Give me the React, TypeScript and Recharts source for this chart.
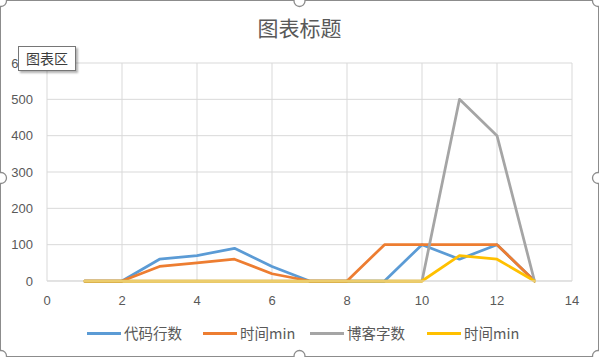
import React from "react";
import { LineChart, Line, XAxis, YAxis, CartesianGrid } from "recharts";

const xValues = [1, 2, 3, 4, 5, 6, 7, 8, 9, 10, 11, 12, 13];
const codeLines = [0, 0, 60, 70, 90, 40, 0, 0, 0, 100, 60, 100, 0];
const timeMin1 = [0, 0, 40, 50, 60, 20, 0, 0, 100, 100, 100, 100, 0];
const blogWords = [0, 0, 0, 0, 0, 0, 0, 0, 0, 0, 500, 400, 0];
const timeMin2 = [0, 0, 0, 0, 0, 0, 0, 0, 0, 0, 70, 60, 0];

const xTicks = [0, 2, 4, 6, 8, 10, 12, 14];
const yTicks = [0, 100, 200, 300, 400, 500, 600];

const seriesNames = ["代码行数", "时间min", "博客字数", "时间min"];
const seriesColors = ["#5B9BD5", "#ED7D31", "#A5A5A5", "#FFC000"];
const seriesKeys = ["s0", "s1", "s2", "s3"];
const seriesValues = [codeLines, timeMin1, blogWords, timeMin2];

const data = xValues.map((x, i) => {
  const row: Record<string, number> = { x };
  seriesKeys.forEach((k, j) => {
    row[k] = seriesValues[j][i];
  });
  return row;
});

const TEXT = "#595959";
const FONT_NUM = "'Liberation Sans', 'Noto Sans CJK SC', sans-serif";
const FONT_CJK = "'Noto Sans CJK SC', 'Liberation Sans', sans-serif";

export default function App() {
  const W = 599;
  const H = 357;
  const handles = [
    [1, 1], [W / 2, 1], [W - 1, 1],
    [1, 178], [W - 1, 178],
    [1, H - 1], [W / 2, H - 1], [W - 1, H - 1],
  ];
  return (
    <div style={{ position: "absolute", left: 0, top: 0, width: W, height: H, background: "#fff", overflow: "hidden" }}>
      <div
        style={{
          position: "absolute",
          left: 0,
          top: 12,
          width: W,
          textAlign: "center",
          fontFamily: FONT_CJK,
          fontSize: 21,
          color: TEXT,
          lineHeight: "30px",
        }}
      >
        图表标题
      </div>
      <LineChart width={W} height={H} data={data} margin={{ top: 63, right: 27, left: 0, bottom: 46 }}>
        <CartesianGrid stroke="#D9D9D9" strokeWidth={1} />
        <XAxis
          dataKey="x"
          type="number"
          domain={[0, 14]}
          ticks={xTicks}
          height={30}
          tickLine={false}
          tickSize={0}
          tickMargin={15}
          axisLine={{ stroke: "#D9D9D9" }}
          tick={{ fill: TEXT, fontSize: 13, fontFamily: FONT_NUM }}
          interval={0}
        />
        <YAxis
          type="number"
          domain={[0, 600]}
          ticks={yTicks}
          width={47}
          tickLine={false}
          tickSize={0}
          tickMargin={14}
          axisLine={false}
          tick={{ fill: TEXT, fontSize: 13, fontFamily: FONT_NUM }}
          interval={0}
        />
        {seriesKeys.map((k, j) => (
          <Line
            key={k}
            type="linear"
            dataKey={k}
            name={seriesNames[j]}
            stroke={seriesColors[j]}
            strokeWidth={2.75}
            strokeLinejoin="round"
            strokeLinecap="round"
            dot={false}
            activeDot={false}
            isAnimationActive={false}
          />
        ))}
      </LineChart>
      <div style={{ position: "absolute", left: 0, top: 323, width: W, height: 20 }}>
        {seriesNames.map((n, j) => {
          const lefts = [87, 203, 310, 427];
          return (
            <div
              key={j}
              style={{
                position: "absolute",
                left: lefts[j],
                top: 0,
                height: 20,
                display: "flex",
                alignItems: "center",
                whiteSpace: "nowrap",
              }}
            >
              <div style={{ width: 34, height: 3, background: seriesColors[j], marginRight: 3 }} />
              <span style={{ fontFamily: FONT_CJK, fontSize: 14.5, color: TEXT, lineHeight: "20px" }}>{n}</span>
            </div>
          );
        })}
      </div>
      <div
        style={{
          position: "absolute",
          left: 18,
          top: 46,
          width: 56,
          height: 23,
          border: "1px solid #767676",
          background: "#fff",
          boxShadow: "2px 2px 2px rgba(0,0,0,0.3)",
          fontFamily: FONT_CJK,
          fontSize: 14,
          color: "#3c3c3c",
          lineHeight: "23px",
          textAlign: "center",
        }}
      >
        图表区
      </div>
      <svg width={W} height={H} style={{ position: "absolute", left: 0, top: 0, pointerEvents: "none" }}>
        <rect x={0.5} y={0.5} width={W - 1} height={H - 1} fill="none" stroke="#8c8c8c" strokeWidth={1} />
        {handles.map(([cx, cy], i) => (
          <circle key={i} cx={cx} cy={cy} r={5.5} fill="#fff" stroke="#8c8c8c" strokeWidth={1.3} />
        ))}
      </svg>
    </div>
  );
}
